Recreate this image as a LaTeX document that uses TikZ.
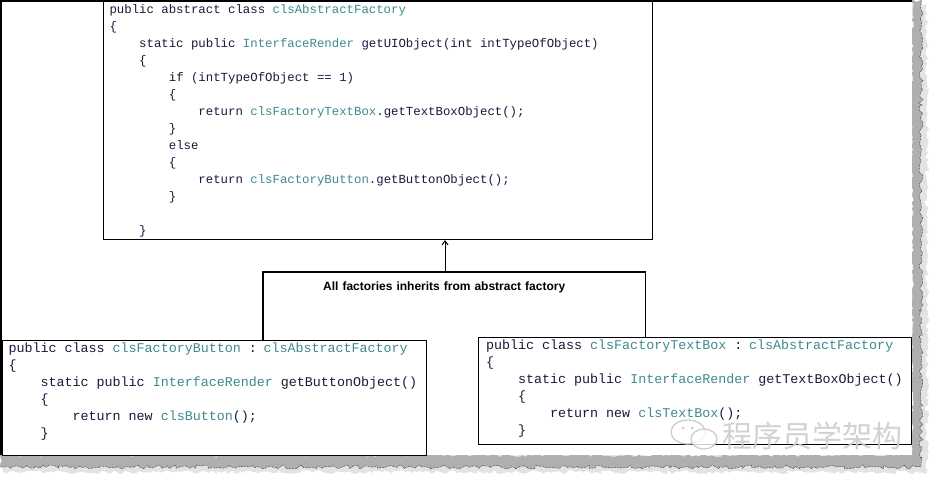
\documentclass[tikz,border=0pt]{standalone}
\usepackage{fontspec}
\newfontfamily\codefont{Liberation Mono}
\newfontfamily\notefont{Liberation Sans}
\newfontfamily\cjkfont{Noto Sans CJK SC}
\usetikzlibrary{arrows.meta, positioning, decorations.pathmorphing}
\definecolor{codeink}{RGB}{25,25,60}
\definecolor{clsink}{RGB}{62,138,140}
\definecolor{tornshade}{RGB}{175,175,175}
\definecolor{markink}{RGB}{205,205,205}
\newcommand{\cls}[1]{\textcolor{clsink}{#1}}
\newcommand{\tb}{\phantom{0000}}
\newcommand{\cs}{\spaceskip=0.6em\relax\rule[-5pt]{0pt}{17pt}}

\begin{document}
\begin{tikzpicture}[x=1pt, y=-1pt,
    codebox/.style={draw, line width=1.1pt, fill=white, anchor=north west, inner ysep=0pt, align=left, text=codeink},
    notebox/.style={anchor=north west, inner xsep=60pt, inner ysep=10pt, text width=262pt, align=left, font=\notefont\bfseries\fontsize{12}{14}\selectfont},
    boxline/.style={line width=1.1pt},
    inherit/.style={line width=1pt, -{Straight Barb[length=4pt,width=6pt]}},
    torn/.style={decorate, decoration={random steps, segment length=3pt, amplitude=2pt}}
]
    \useasboundingbox (0,0) rectangle (937,485);

    % torn paper edge
    \pgfmathsetseed{17}
    \fill[gray!22, torn] (927,4) -- (927,472) -- (3,472) -- (3,455) -- (912,455) -- (912,4) -- cycle;
    \pgfmathsetseed{7}
    \fill[tornshade, torn] (921,0) -- (921,467) -- (0,467) -- (0,455) -- (912,455) -- (912,0) -- cycle;
    \pgfmathsetseed{7}
    \draw[densely dotted, line width=0.5pt, torn] (921,0) -- (921,467) -- (0,467);
    \fill[white] (0,0) rectangle (912,455);
    \draw[line width=1.5pt] (0.75,455) -- (0.75,0.75) -- (912,0.75);

    % abstract factory
    \node[codebox, inner xsep=6pt, text width=537pt, font=\codefont\fontsize{12.35}{17}\selectfont] (top) at (103,1) {%
        \cs public abstract class \cls{clsAbstractFactory}\\
        \cs\{\\
        \cs\tb static public \cls{InterfaceRender} getUIObject(int intTypeOfObject)\\
        \cs\tb\{\\
        \cs\tb\tb if (intTypeOfObject == 1)\\
        \cs\tb\tb\{\\
        \cs\tb\tb\tb return \cls{clsFactoryTextBox}.getTextBoxObject();\\
        \cs\tb\tb\}\\
        \cs\tb\tb else\\
        \cs\tb\tb\{\\
        \cs\tb\tb\tb return \cls{clsFactoryButton}.getButtonObject();\\
        \cs\tb\tb\}\\
        \cs\\
        \cs\tb\}};

    % concrete factories
    \node[codebox, inner xsep=6pt, text width=412pt, font=\codefont\fontsize{13.35}{17}\selectfont] (bl) at (2,339.5) {%
        \cs public class \cls{clsFactoryButton} : \cls{clsAbstractFactory}\\
        \cs\{\\
        \cs\tb static public \cls{InterfaceRender} getButtonObject()\\
        \cs\tb\{\\
        \cs\tb\tb return new \cls{clsButton}();\\
        \cs\rule[-18pt]{0pt}{1pt}\tb\}};
    \node[codebox, inner xsep=7.5pt, text width=418pt, font=\codefont\fontsize{13.35}{17}\selectfont] (br) at (478,336.5) {%
        \cs public class \cls{clsFactoryTextBox} : \cls{clsAbstractFactory}\\
        \cs\{\\
        \cs\tb static public \cls{InterfaceRender} getTextBoxObject()\\
        \cs\tb\{\\
        \cs\tb\tb return new \cls{clsTextBox}();\\
        \cs\rule[-10pt]{0pt}{1pt}\tb\}};

    % note and inheritance arrow
    \node[notebox] (note) at (263,272) {All factories inherits from abstract factory};
    \draw[boxline] (note.north west |- bl.north) -- (note.north west) -- (note.north east) -- (note.north east |- br.north);
    \coordinate (ax) at (445,0);
    \draw[inherit] (ax |- note.north) -- (ax |- top.south);

    % watermark
    \draw[markink, line width=1.3pt, fill=white, fill opacity=0.6] (688,432) ellipse (17 and 12);
    \draw[markink, line width=1.3pt, fill=white, fill opacity=0.8] (704,439) ellipse (13 and 10);
    \fill[markink] (683,428) circle (1.5) (692,428) circle (1.5);
    \node[font=\cjkfont\fontsize{30}{30}\selectfont, text=markink, text opacity=0.9, anchor=west, inner sep=0pt] (mark) at (722,436) {程序员学架构};
\end{tikzpicture}
\end{document}
